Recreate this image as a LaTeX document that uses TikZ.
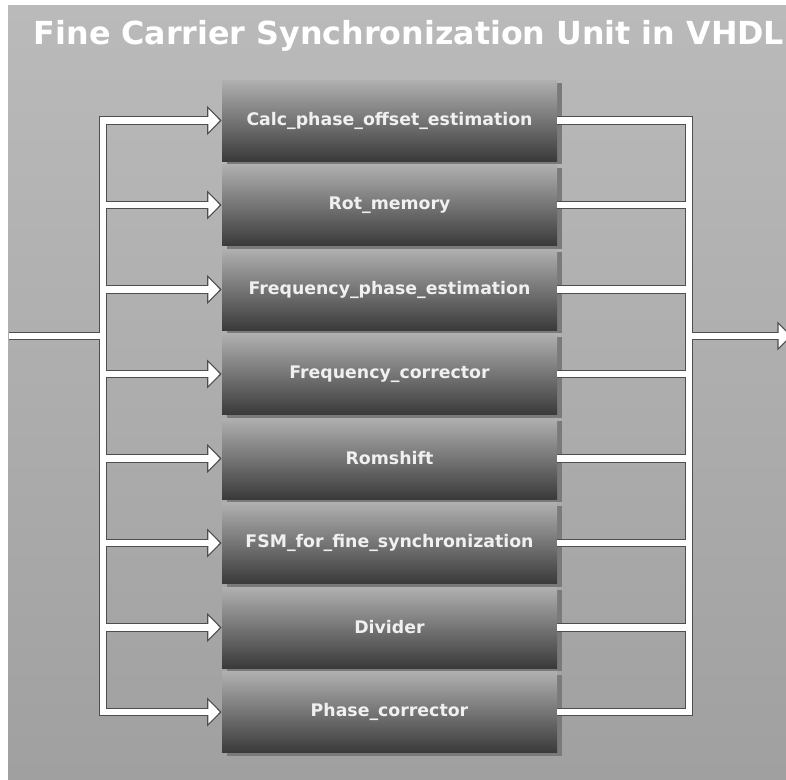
\documentclass[tikz,border=0pt]{standalone}
\usepackage{fontspec}
\setsansfont{DejaVu Sans}
\usepackage{tikz}
\usetikzlibrary{arrows.meta,shadows}

\definecolor{bgtop}{RGB}{186,186,186}
\definecolor{bgbot}{RGB}{160,160,160}
\definecolor{boxtop}{RGB}{176,176,176}
\definecolor{boxbot}{RGB}{58,58,58}
\definecolor{boxshadow}{RGB}{122,122,122}
\definecolor{wireedge}{RGB}{78,78,78}

\tikzset{
  unit/.style={minimum width=251.25pt, minimum height=60.75pt, inner sep=0pt,
    top color=boxtop, bottom color=boxbot,
    drop shadow={shadow xshift=3.5pt, shadow yshift=-2.25pt, fill=boxshadow, opacity=1},
    text=white!94!black, font=\sffamily\bfseries\fontsize{13}{15}\selectfont},
  wire edge/.style={line width=6.4pt, draw=wireedge},
  wire core/.style={line width=4.8pt, draw=white},
  edge head/.style={-{Triangle[length=11pt, width=21pt]}},
  core head/.style={-{Triangle[length=8.6pt, width=17pt]}, shorten >=1.5pt}
}

\begin{document}
\begin{tikzpicture}[x=0.75pt, y=-0.75pt]
	% Canvas
	\useasboundingbox (0,0) rectangle (786,779);
	\shade[top color=bgtop, bottom color=bgbot] (8,5) rectangle (786,779);

	% Title
	\node (title) at (409,36) [text=white, font=\sffamily\bfseries\fontsize{23.8}{28}\selectfont] {Fine Carrier Synchronization Unit in VHDL};

	% Units
	\foreach \name [count=\i] in {Calc\_phase\_offset\_estimation, Rot\_memory, Frequency\_phase\_estimation, Frequency\_corrector, Romshift, FSM\_for\_fine\_synchronization, Divider, Phase\_corrector}
		\node[unit] (b\i) at (389.5, 120.5+84.5*\i-84.5) {\name};

	% Bus points
	\coordinate (in) at (9,336);
	\coordinate (lb) at (103,336);
	\coordinate (rb) at (689,336);
	\coordinate (out) at (792,336);

	% Wires: outline first, then white core
	\foreach \w/\h in {wire edge/edge head, wire core/core head} {
		\foreach \i in {1,...,8} {
			\draw[\w, \h] (in) -- (lb) |- (b\i.west);
			\draw[\w] (b\i.east) -| (rb);
		}
		\draw[\w, \h] (rb) -- (out);
	}

\end{tikzpicture}
\end{document}
